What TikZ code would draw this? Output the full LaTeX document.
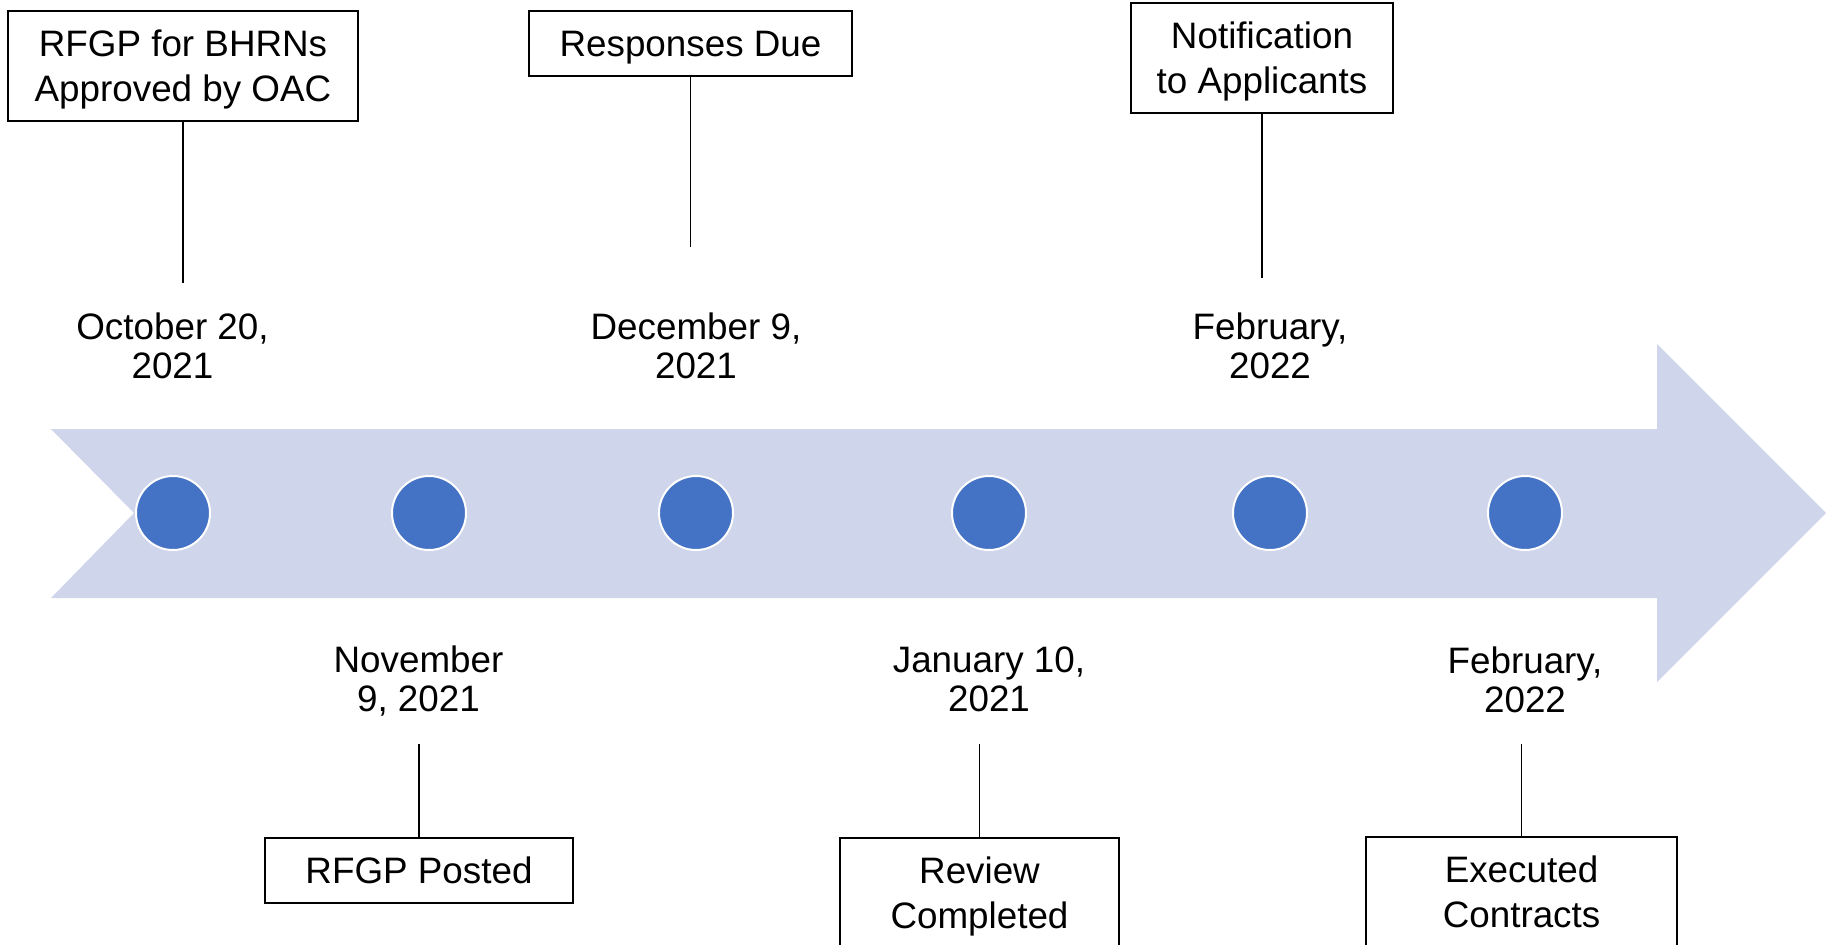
\documentclass[tikz,border=0pt]{standalone}
\usepackage{fontspec}
\setmainfont{Liberation Sans}
\definecolor{band}{HTML}{CFD5EA}
\definecolor{dotblue}{HTML}{4472C4}
\begin{document}
\begin{tikzpicture}[x=0.5pt,y=-0.5pt,
    event/.style={draw,line width=0.7pt,inner sep=0pt,align=center,text depth=0pt,font=\fontsize{18.4}{22.6}\selectfont},
    when/.style={inner sep=0pt,align=center,font=\fontsize{18.4}{19.5}\selectfont},
    milestone/.style={circle,fill=dotblue,draw=white,line width=1pt,minimum size=37pt,inner sep=0pt},
    stem/.style={line width=0.7pt}]
    \useasboundingbox (0,0) rectangle (1831,944);
    \clip (0,0) rectangle (1831,944);

    % the timeline arrow
    \fill[band] (51,429) -- (1657,429) -- (1657,344) -- (1826,513) -- (1657,682)
        -- (1657,598) -- (51,598) -- (134,513) -- cycle;

    \node[milestone] (m1) at (173,513) {};
    \node[milestone] (m2) at (429,513) {};
    \node[milestone] (m3) at (696,513) {};
    \node[milestone] (m4) at (989,513) {};
    \node[milestone] (m5) at (1270,513) {};
    \node[milestone] (m6) at (1525,513) {};

    % dates above
    \node[when] (d1) at (172.5,346) {October 20,\\2021};
    \node[when] (d3) at (696,346) {December 9,\\2021};
    \node[when] (d5) at (1270,346) {February,\\2022};

    % dates below
    \node[when] (d2) at (418.5,681.5) {November\\9, 2021};
    \node[when] (d4) at (989,679.5) {January 10,\\2021};
    \node[when] (d6) at (1525,679.5) {February,\\2022};

    % top boxes
    \node[event,minimum width=175pt,minimum height=55pt] (e1) at (183,66) {RFGP for BHRNs\\Approved by OAC};
    \node[event,minimum width=161.5pt,minimum height=32.5pt] (e3) at (690.5,43.5) {Responses Due};
    \node[event,minimum width=131pt,minimum height=55pt] (e5) at (1262,58) {Notification\\to Applicants};
    \coordinate (s1) at (183,283);
    \coordinate (s3) at (690.5,247);
    \coordinate (s5) at (1262,278);
    \draw[stem] (e1) -- (s1);
    \draw[stem] (e3) -- (s3);
    \draw[stem] (e5) -- (s5);

    % bottom boxes
    \node[event,minimum width=154pt,minimum height=32.5pt] (e2) at (419,870.5) {RFGP Posted};
    \node[event,minimum width=139.5pt,minimum height=55pt] (e4) at (979.5,893) {Review\\Completed};
    \node[event,minimum width=155.5pt,minimum height=55pt] (e6) at (1521.5,892) {Executed\\Contracts};
    \coordinate (s2) at (419,744);
    \coordinate (s4) at (979.5,744);
    \coordinate (s6) at (1521.5,744);
    \draw[stem] (s2) -- (e2);
    \draw[stem] (s4) -- (e4);
    \draw[stem] (s6) -- (e6);
\end{tikzpicture}
\end{document}
